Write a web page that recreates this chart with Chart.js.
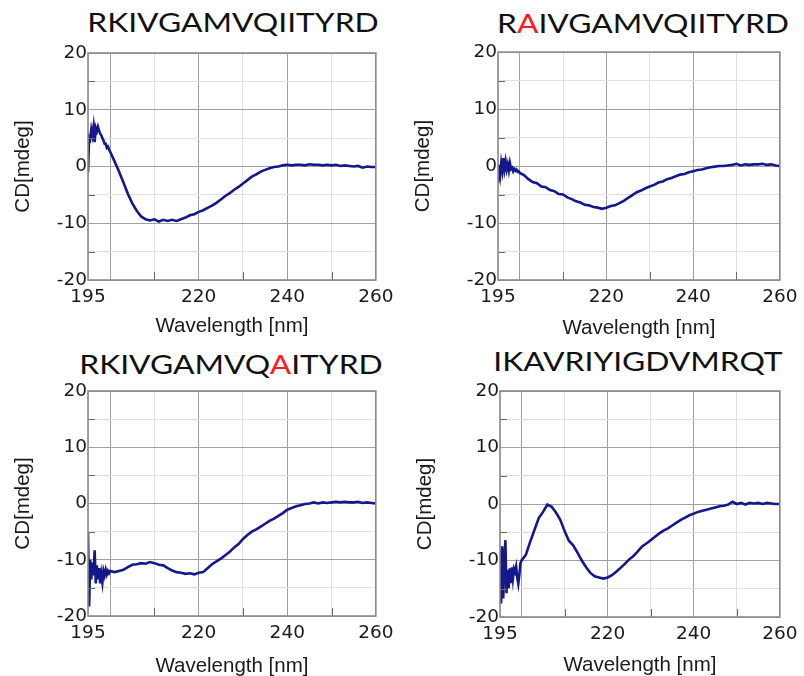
<!DOCTYPE html>
<html>
<head>
<meta charset="utf-8">
<script src="https://cdn.jsdelivr.net/npm/chart.js@4/dist/chart.umd.min.js"></script>
<style>
  html, body { margin: 0; padding: 0; background: #ffffff; overflow: hidden; width: 804px; height: 676px; }
  #wrap { position: absolute; left: 0; top: 0; width: 804px; height: 676px; overflow: hidden; }
  canvas { position: absolute; }
  .ttl { position: absolute; font-family: Lato, "Open Sans", sans-serif; font-size: 27.5px;
         line-height: 27.5px; color: #111; white-space: nowrap;
         transform: translateX(-50%) scaleX(1.155); transform-origin: 50% 50%; }
  .mut { color: #ff1a1a; }
</style>
</head>
<body>
<div id="wrap">
  <div class="ttl" id="t0" style="left:233px; top:8px;"></div>
  <div class="ttl" id="t1" style="left:643px; top:8.5px;"></div>
  <div class="ttl" id="t2" style="left:231px; top:350px;"></div>
  <div class="ttl" id="t3" style="left:638px; top:347px;"></div>
  <canvas id="c0" width="400" height="310" style="left:0px; top:40px;"></canvas>
  <canvas id="c1" width="404" height="310" style="left:400px; top:40px;"></canvas>
  <canvas id="c2" width="400" height="310" style="left:0px; top:376px;"></canvas>
  <canvas id="c3" width="404" height="310" style="left:400px; top:376px;"></canvas>
</div>
<script>
// ---------------- data ----------------
const wavelengths = [
  195, 195.25, 195.5, 195.75, 196, 196.25, 196.5, 196.75, 197, 197.25, 197.5, 197.75,
  198, 198.25, 198.5, 198.75, 199, 199.25, 199.5, 199.75, 200,
  201, 202, 203, 204, 205, 206, 207, 208, 209, 210,
  211, 212, 213, 214, 215, 216, 217, 218, 219, 220,
  221, 222, 223, 224, 225, 226, 227, 228, 229, 230,
  231, 232, 233, 234, 235, 236, 237, 238, 239, 240,
  241, 242, 243, 244, 245, 246, 247, 248, 249, 250,
  251, 252, 253, 254, 255, 256, 257, 258, 259, 260
];
// CD [mdeg] – RKIVGAMVQIITYRD
const cdRKIVGAMVQIITYRD = [
  -1.0, 5.2, 4.8, 6.5, 5.5, 7.0, 4.3, 6.8, 6.2, 7.0, 6.3, 5.8,
  5.5, 5.0, 4.6, 4.0, 4.0, 3.3, 3.5, 3.0, 2.6,
  0.9, -0.9, -2.8, -4.8, -6.5, -7.8, -8.8, -9.3, -9.5, -9.3,
  -9.7, -9.4, -9.6, -9.4, -9.6, -9.3, -9.0, -8.6, -8.4, -8.0,
  -7.7, -7.3, -6.9, -6.4, -5.8, -5.2, -4.7, -4.1, -3.6, -3.0,
  -2.4, -1.8, -1.4, -0.9, -0.6, -0.3, -0.1, 0.0, 0.2, 0.3,
  0.2, 0.3, 0.3, 0.2, 0.4, 0.3, 0.3, 0.2, 0.3, 0.2,
  0.3, 0.1, 0.2, 0.1, 0.0, 0.1, -0.2, 0.0, -0.1, -0.1
];
// CD [mdeg] – RAIVGAMVQIITYRD
const cdRAIVGAMVQIITYRD = [
  -3.0, 0.2, -1.5, 0.5, -0.8, 1.4, -0.5, 0.8, -0.6, 0.3, -0.8, 0.5,
  -0.5, -0.3, -0.9, -0.5, -0.8, -0.6, -1.0, -0.9, -1.2,
  -1.6, -2.3, -2.8, -3.0, -3.6, -3.7, -4.2, -4.4, -4.9, -5.0,
  -5.5, -5.8, -6.2, -6.4, -6.8, -6.9, -7.2, -7.3, -7.5, -7.3,
  -7.0, -6.9, -6.5, -6.1, -5.6, -5.1, -4.6, -4.3, -3.9, -3.6,
  -3.3, -2.9, -2.7, -2.3, -2.1, -1.8, -1.5, -1.4, -1.1, -0.9,
  -0.7, -0.6, -0.4, -0.2, -0.1, 0.0, 0.0, 0.1, 0.2, 0.4,
  0.1, 0.3, 0.2, 0.3, 0.3, 0.4, 0.2, 0.3, 0.1, 0.0
];
// CD [mdeg] – RKIVGAMVQAITYRD
const cdRKIVGAMVQAITYRD = [
  -5.2, -18.3, -10.0, -13.5, -10.5, -12.8, -8.3, -14.2, -11.0, -13.5, -11.5, -14.2,
  -12.5, -14.0, -12.0, -12.8, -11.8, -12.6, -12.0, -12.4, -12.0,
  -12.2, -12.0, -11.8, -11.3, -10.9, -10.8, -10.6, -10.7, -10.4, -10.6,
  -10.9, -11.0, -11.5, -11.9, -12.2, -12.3, -12.5, -12.4, -12.6, -12.3,
  -12.2, -11.5, -10.8, -10.3, -9.8, -9.2, -8.6, -7.8, -7.2, -6.3,
  -5.6, -5.0, -4.6, -4.1, -3.6, -3.1, -2.7, -2.2, -1.7, -1.1,
  -0.8, -0.5, -0.3, -0.1, 0.0, 0.2, 0.0, 0.2, 0.1, 0.2,
  0.3, 0.2, 0.3, 0.2, 0.2, 0.3, 0.1, 0.2, 0.1, 0.0
];
// CD [mdeg] – IKAVRIYIGDVMRQT
const cdIKAVRIYIGDVMRQT = [
  -8.1, -17.6, -7.5, -16.7, -10.0, -6.4, -15.8, -11.7, -14.9, -11.4, -14.0, -11.2,
  -13.2, -11.5, -12.0, -11.1, -13.0, -14.1, -12.5, -10.5, -10.0,
  -9.0, -6.7, -4.6, -2.5, -1.4, -0.1, -0.5, -1.5, -2.8, -4.8,
  -6.5, -7.3, -8.6, -10.0, -11.2, -12.2, -12.8, -13.0, -13.2, -13.0,
  -12.6, -12.0, -11.3, -10.6, -9.8, -9.2, -8.4, -7.5, -7.0, -6.4,
  -5.8, -5.2, -4.7, -4.3, -3.8, -3.3, -2.8, -2.4, -2.0, -1.7,
  -1.4, -1.2, -1.0, -0.8, -0.6, -0.4, -0.3, -0.1, 0.4, 0.0,
  0.2, -0.1, 0.2, 0.1, 0.2, 0.0, 0.2, 0.1, 0.0, 0.0
];
// title segments: [text, isMutation]
const titles = [
  [["RKIVGAMVQIITYRD", false]],
  [["R", false], ["A", true], ["IVGAMVQIITYRD", false]],
  [["RKIVGAMVQ", false], ["A", true], ["ITYRD", false]],
  [["IKAVRIYIGDVMRQT", false]]
];
const seriesList = [cdRKIVGAMVQIITYRD, cdRAIVGAMVQIITYRD, cdRKIVGAMVQAITYRD, cdIKAVRIYIGDVMRQT];
const xTickValues = [195, 200, 210, 220, 230, 240, 250, 260];
const xLabelValues = [195, 220, 240, 260];
const xMinorValues = [210, 230, 250];
const yMinorValues = [-15, -5, 5, 15];
const xTitle = "Wavelength [nm]";
const yTitle = "CD[mdeg]";

// ---------------- layout (per panel) ----------------
const panelLayout = [
  { yW: 88,  xH: 70, padTop: 13, padRight: 20, xTitlePad: 11.5, yTitlePad: 11.5 },
  { yW: 98,  xH: 70, padTop: 12, padRight: 13, xTitlePad: 9,    yTitlePad: 11.5 },
  { yW: 88,  xH: 70, padTop: 15, padRight: 21, xTitlePad: 7,    yTitlePad: 11.5 },
  { yW: 100, xH: 69, padTop: 15, padRight: 12, xTitlePad: 8.5,  yTitlePad: 13.5 }
];

const MAJOR = '#a0a0a0', MINOR = '#e0e0e0', FRAME = '#8a8a8a', TICKMARK = '#6a6a6a';
const LINE = '#14188c';
const TICKFONT = '"DejaVu Sans", Verdana, sans-serif';
const TITLEFONT = '"Liberation Sans", Arial, sans-serif';

const framePlugin = {
  id: 'frame',
  afterDatasetsDraw(chart) {
    const { ctx, chartArea: a, scales: { x, y } } = chart;
    ctx.save();
    ctx.strokeStyle = TICKMARK;
    ctx.lineWidth = 1;
    ctx.beginPath();
    for (const v of yMinorValues) {
      const p = Math.round(y.getPixelForValue(v)) + 0.5;
      ctx.moveTo(a.left, p); ctx.lineTo(a.left + 7, p);
    }
    for (const v of xMinorValues) {
      const p = Math.round(x.getPixelForValue(v)) + 0.5;
      ctx.moveTo(p, a.bottom); ctx.lineTo(p, a.bottom - 8);
    }
    ctx.stroke();
    ctx.strokeStyle = FRAME;
    ctx.lineWidth = 1.6;
    ctx.strokeRect(a.left, a.top, a.right - a.left, a.bottom - a.top);
    ctx.restore();
  }
};

titles.forEach((segs, i) => {
  const el = document.getElementById('t' + i);
  segs.forEach(([txt, mut]) => {
    const s = document.createElement('span');
    s.textContent = txt;
    if (mut) s.className = 'mut';
    el.appendChild(s);
  });
});

seriesList.forEach((vals, i) => {
  const L = panelLayout[i];
  new Chart(document.getElementById('c' + i), {
    type: 'line',
    data: {
      datasets: [{
        data: wavelengths.map((w, k) => ({ x: w, y: vals[k] })),
        borderColor: LINE,
        borderWidth: 2.6,
        pointRadius: 0,
        tension: 0,
        fill: false
      }]
    },
    options: {
      responsive: false,
      animation: false,
      devicePixelRatio: 1,
      layout: { padding: { top: L.padTop, right: L.padRight, left: 0, bottom: 0 } },
      plugins: { legend: { display: false }, tooltip: { enabled: false }, title: { display: false } },
      scales: {
        x: {
          type: 'linear', min: 195, max: 260,
          afterBuildTicks(scale) { scale.ticks = xTickValues.map(v => ({ value: v })); },
          afterFit(scale) { scale.height = L.xH; },
          border: { display: false },
          grid: {
            drawTicks: false,
            lineWidth: 1,
            color: ctx => (ctx.tick && ctx.tick.value % 20 === 0) ? MAJOR : MINOR
          },
          ticks: {
            autoSkip: false, maxRotation: 0, padding: 6.5,
            color: '#1a1a1a', font: { family: TICKFONT, size: 18.5 },
            callback: v => xLabelValues.includes(v) ? String(v) : ''
          },
          title: { display: true, text: xTitle, color: '#1a1a1a',
                   font: { family: TITLEFONT, size: 20.5 }, padding: { top: 0, bottom: L.xTitlePad } }
        },
        y: {
          type: 'linear', min: -20, max: 20,
          afterFit(scale) { scale.width = L.yW; },
          border: { display: false },
          grid: {
            drawTicks: false,
            lineWidth: 1,
            color: ctx => (ctx.tick && ctx.tick.value % 10 === 0) ? MAJOR : MINOR
          },
          ticks: {
            stepSize: 5, padding: 1,
            color: '#1a1a1a', font: { family: TICKFONT, size: 18.5 },
            callback: v => (v % 10 === 0) ? String(v) : ''
          },
          title: { display: true, text: yTitle, color: '#1a1a1a',
                   font: { family: TITLEFONT, size: 20.5 }, padding: { top: L.yTitlePad, bottom: 0 } }
        }
      }
    },
    plugins: [framePlugin]
  });
});
</script>
</body>
</html>
